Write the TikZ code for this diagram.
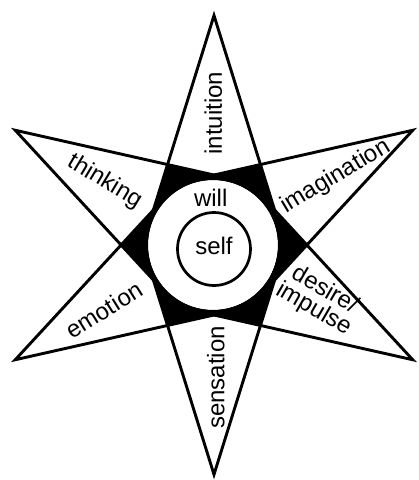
\documentclass[tikz,border=0pt]{standalone}
\usepackage{fontspec}
\setmainfont{Liberation Sans}
\begin{document}
\begin{tikzpicture}[x=1pt,y=1pt,
  lbl/.style={font=\fontsize{24}{22}\selectfont, inner sep=0pt, align=center},
  petal/.style={line width=2.9pt, line join=miter}]
\fill[white] (-214,-235) rectangle (205,245);
\useasboundingbox (-214,-235) rectangle (205,245);
\def\R{229.5}\def\rb{70}
% overlaps of neighbouring rays are black
\foreach \a in {90,150,...,390} {
  \begin{scope}
    \clip (\a:\R) -- (\a-60:\rb) -- (\a+60:\rb) -- cycle;
    \fill[black] (\a+60:\R) -- (\a:\rb) -- (\a+120:\rb) -- cycle;
  \end{scope}
}
% outlines of the six rays
\foreach \a in {90,150,...,390} {
  \draw[petal] (\a:\R) -- (\a-60:\rb) -- (\a+60:\rb) -- cycle;
}
% central ring
\fill[white] (-1,0) circle (65);
\draw[line width=2.6pt] (-1,0) circle (66.3);
\draw[line width=2.7pt] (0,-4) circle (36.5);
% labels
\node[lbl] (self) at (0,-0.7) {self};
\node[lbl] (will) at (-3.3,47.5) {will};
\node[lbl, rotate=90] (intuition) at (-0.7,131.7) {intuition};
\node[lbl, rotate=90] (sensation) at (1.7,-132.5) {sensation};
\node[lbl, rotate=-31] (thinking) at (-109,63.3) {thinking};
\node[lbl, rotate=31] (imagination) at (121.7,68.3) {imagination};
\node[lbl, rotate=32] (emotion) at (-110,-65) {emotion};
\node[lbl, rotate=-30] (desire) at (105,-55) {desire/\\impulse};
\end{tikzpicture}
\end{document}
